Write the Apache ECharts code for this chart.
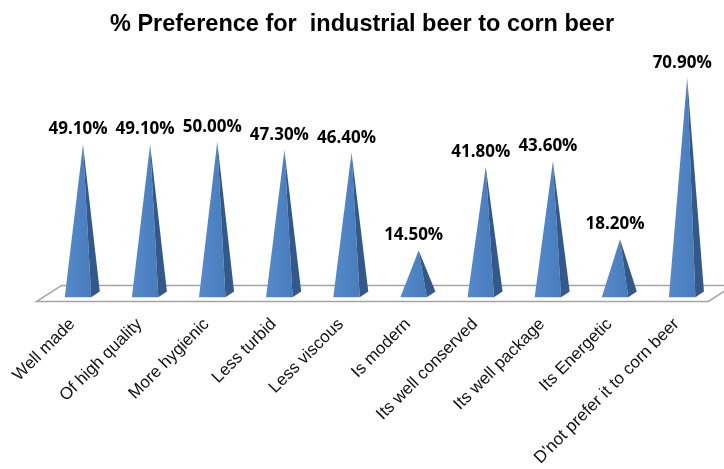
<!DOCTYPE html>
<html>
<head>
<meta charset="utf-8">
<script src="https://cdn.jsdelivr.net/npm/echarts@6/dist/echarts.min.js"></script>
<style>
  html, body { margin: 0; padding: 0; background: #ffffff; }
  #chart { width: 724px; height: 469px; }
</style>
</head>
<body>
<div id="chart"></div>
<script>
// Reasons given for preferring industrial beer over corn beer (% of respondents)
const categories = [
  'Well made', 'Of high quality', 'More hygienic', 'Less turbid', 'Less viscous',
  'Is modern', 'Its well conserved', 'Its well package', 'Its Energetic',
  "D'not prefer it to corn beer"
];
const preference = [49.1, 49.1, 50.0, 47.3, 46.4, 14.5, 41.8, 43.6, 18.2, 70.9];
const titleText = '% Preference for  industrial beer to corn beer';

const chart = echarts.init(document.getElementById('chart'), null, { renderer: 'canvas' });

// Flat grey floor the pyramids stand on, spanning the whole category band
function renderFloor(params, api) {
  const first = api.coord([0, 0]);
  const last = api.coord([categories.length - 1, 0]);
  const band = api.size([1, 0])[0];
  const y0 = first[1];
  const backY = y0 - 9.5, frontY = y0 + 6.5;
  const lx = first[0] - band * 0.615, rx = last[0] + band * 0.39;
  const depth = band * 0.37;
  return {
    type: 'polygon',
    shape: { points: [[lx + depth, backY], [rx + depth, backY], [rx, frontY], [lx, frontY]] },
    style: { fill: '#ffffff', stroke: '#a3a3a3', lineWidth: 1.6 },
    silent: true
  };
}

// Each value is drawn as a 3D-looking pyramid: a lit front face and a shaded side face
function renderPyramid(params, api) {
  const idx = api.value(0);
  const val = api.value(1);
  const base = api.coord([idx, 0]);
  const top = api.coord([idx, val]);
  const band = api.size([1, 0])[0];
  const half = band * 0.197;
  const c = base[0];
  const by = base[1] + 2.2;
  const apex = [c + band * 0.075, top[1]];
  const sideBack = [c + band * 0.325, base[1] - 3.5];
  return {
    type: 'group',
    children: [
      {
        type: 'polygon',
        shape: { points: [[c - half, by], [c + half, by], apex] },
        style: {
          fill: new echarts.graphic.LinearGradient(0, 0, 1, 0, [
            { offset: 0, color: '#5689ca' },
            { offset: 0.5, color: '#4f83c4' },
            { offset: 1, color: '#4a7cbb' }
          ])
        }
      },
      {
        type: 'polygon',
        shape: { points: [[c + half, by], sideBack, apex] },
        style: { fill: '#33598a' }
      },
      {
        type: 'text',
        style: {
          x: apex[0] - 5,
          y: apex[1] - 15,
          text: val.toFixed(2) + '%',
          fill: '#000000',
          font: 'bold 17px "Open Sans", "DejaVu Sans", sans-serif',
          align: 'center',
          verticalAlign: 'middle'
        }
      }
    ]
  };
}

chart.setOption({
  animation: false,
  backgroundColor: '#ffffff',
  title: {
    text: titleText,
    left: 'center',
    top: 8,
    textStyle: {
      fontFamily: '"Liberation Sans", Arial, sans-serif',
      fontWeight: 'bold',
      fontSize: 23.5,
      color: '#000000'
    }
  },
  grid: { left: 44.4, right: 8.3, top: 49.9, bottom: 173.5, containLabel: false },
  xAxis: {
    type: 'category',
    data: categories,
    axisLine: { show: false },
    axisTick: { show: false },
    axisLabel: {
      rotate: 45,
      interval: 0,
      margin: 21,
      padding: [0, 8, 0, 0],
      color: '#111111',
      fontFamily: '"Liberation Sans", Arial, sans-serif',
      fontSize: 17
    }
  },
  yAxis: {
    type: 'value',
    min: 0,
    max: 80,
    show: false,
    splitLine: { show: false }
  },
  series: [
    {
      type: 'custom',
      renderItem: renderFloor,
      data: [[0, 0]],
      clip: false,
      silent: true,
      z: 1
    },
    {
      type: 'custom',
      renderItem: renderPyramid,
      data: preference.map((v, i) => [i, v]),
      encode: { x: 0, y: 1 },
      clip: false,
      z: 2
    }
  ]
});
</script>
</body>
</html>
